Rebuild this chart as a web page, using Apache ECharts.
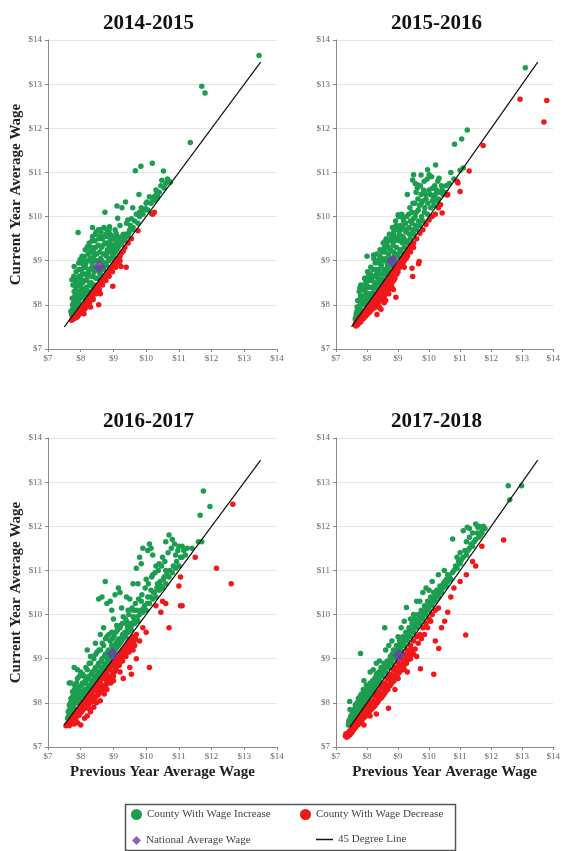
<!DOCTYPE html>
<html>
<head>
<meta charset="utf-8">
<script src="https://cdn.jsdelivr.net/npm/echarts@6/dist/echarts.min.js"></script>
<style>html,body{margin:0;padding:0;background:#fff;}#c{width:563px;height:851px;}</style>
</head>
<body>
<div id="c"></div>
<script>
// ---------- DATA ----------
const panelTitles = ['2014-2015', '2015-2016', '2016-2017', '2017-2018'];
const seriesNames = ['County With Wage Increase', 'County With Wage Decrease', 'National Average Wage', '45 Degree Line'];

// 2014-2015
const inc1415 = [[7.72,7.78],[7.75,7.9],[7.75,8.0],[7.78,8.05],[7.8,7.85],[7.8,8.3],[7.82,8.2],[7.85,7.95],[7.85,8.4],[7.88,8.1],[7.88,8.45],[7.9,8.6],[7.9,7.95],[7.92,8.3],[7.95,8.05],[7.95,8.8],[7.98,8.5],[8.0,8.15],[8.0,8.6],[8.02,8.95],[8.05,8.7],[8.05,8.35],[8.08,8.2],[8.1,8.55],[8.1,8.9],[8.12,9.1],[8.15,8.85],[8.15,8.1],[8.18,8.4],[8.2,9.3],[8.2,8.65],[8.22,9.0],[8.25,8.3],[8.28,8.8],[8.3,9.2],[8.32,8.5],[8.35,9.45],[8.35,8.95],[8.38,8.65],[8.4,9.1],[8.42,8.45],[8.45,9.6],[8.45,9.3],[8.48,8.8],[8.5,9.0],[8.52,8.6],[8.55,9.5],[8.58,9.2],[8.6,8.7],[8.62,9.65],[8.65,9.0],[8.68,9.35],[8.7,8.8],[8.72,9.55],[8.75,9.15],[8.78,8.9],[8.8,9.7],[8.82,9.4],[8.85,9.0],[8.88,9.2],[8.9,9.6],[8.92,9.05],[8.95,9.35],[9.0,9.15],[9.02,9.5],[9.05,9.7],[9.1,9.25],[9.12,9.55],[9.18,9.35],[9.2,9.8],[9.25,9.4],[9.3,9.6],[9.35,9.5],[9.4,9.85],[9.45,9.6],[9.5,9.7],[9.55,9.95],[9.6,9.75],[9.65,9.9],[9.7,10.05],[9.75,9.85],[9.8,10.0],[9.85,10.2],[9.9,10.05],[9.95,10.15],[10.0,10.3],[10.05,10.15],[10.1,10.45],[10.15,10.3],[10.2,10.35],[10.25,10.45],[10.3,10.6],[10.35,10.45],[10.4,10.55],[10.45,10.7],[10.55,10.65],[10.6,10.75],[10.65,10.85],[10.7,10.8],[7.92,9.64],[8.74,10.1],[9.11,10.24],[9.37,10.33],[9.26,10.2],[9.59,10.2],[9.8,10.1],[9.78,10.5],[10.03,10.33],[9.98,10.18],[10.16,10.07],[10.31,10.5],[10.28,10.37],[8.36,9.75],[8.6,9.7],[8.88,9.77],[9.13,9.96],[9.44,9.92],[9.08,9.62],[8.21,9.32],[7.98,9.02],[7.8,8.87],[7.73,8.57],[9.84,11.14],[9.67,11.04],[10.19,11.21],[10.53,11.03],[10.48,10.82],[10.74,10.78],[11.35,11.68],[11.7,12.95],[11.8,12.8],[13.45,13.65]];
const inc1415core = [[7.7,7.85],[7.74,8.15],[7.76,8.45],[7.79,8.65],[7.83,8.05],[7.84,8.55],[7.86,8.75],[7.87,8.25],[7.91,8.15],[7.93,8.45],[7.94,8.95],[7.96,8.65],[7.99,8.25],[8.01,8.4],[8.03,8.8],[8.04,9.1],[8.06,8.5],[8.09,9.0],[8.11,8.3],[8.13,8.7],[8.14,9.25],[8.16,8.95],[8.19,8.55],[8.21,8.25],[8.23,9.15],[8.24,8.75],[8.26,9.4],[8.27,8.45],[8.29,9.05],[8.31,8.65],[8.33,9.3],[8.34,8.85],[8.36,9.55],[8.37,8.4],[8.39,9.2],[8.41,8.75],[8.43,9.45],[8.44,9.0],[8.46,8.6],[8.47,9.65],[8.49,9.15],[8.51,8.85],[8.53,9.35],[8.54,9.7],[8.57,8.75],[8.59,9.55],[8.61,9.05],[8.63,9.3],[8.64,8.85],[8.66,9.5],[8.69,9.15],[8.71,9.75],[8.73,8.95],[8.74,9.4],[8.77,9.6],[8.79,9.1],[8.81,9.25],[8.83,9.55],[8.86,9.35],[8.87,9.7],[8.89,9.05],[8.91,9.45],[8.93,9.25],[8.96,9.55],[8.98,9.1],[9.03,9.3],[9.06,9.2],[9.08,9.4],[9.14,9.3],[9.16,9.5],[9.22,9.4],[9.27,9.55],[9.32,9.45],[9.38,9.6],[9.42,9.55],[9.48,9.65],[9.52,9.8],[9.58,9.7]];
const dec1415 = [[7.75,7.7],[7.8,7.72],[7.85,7.78],[7.9,7.8],[7.92,7.75],[7.95,7.85],[8.0,7.9],[8.02,7.85],[8.05,7.95],[8.1,7.98],[8.1,7.8],[8.12,7.9],[8.15,8.05],[8.2,8.1],[8.22,8.0],[8.25,8.15],[8.3,8.2],[8.3,7.95],[8.35,8.25],[8.38,8.12],[8.4,8.3],[8.45,8.35],[8.5,8.4],[8.52,8.3],[8.55,8.45],[8.6,8.5],[8.6,8.25],[8.65,8.55],[8.7,8.6],[8.75,8.65],[8.8,8.7],[8.85,8.75],[8.9,8.8],[8.95,8.85],[9.0,8.92],[9.05,8.95],[9.1,9.0],[9.15,9.05],[9.2,9.1],[9.2,9.0],[9.25,9.18],[9.3,9.22],[9.35,9.3],[9.45,9.4],[9.55,9.5],[9.75,9.68],[10.2,10.05],[10.25,10.1],[8.55,8.0],[8.98,8.42],[9.23,8.87],[9.39,8.85],[7.72,7.65],[7.78,7.68],[7.83,7.7],[7.88,7.72],[7.97,7.8],[8.07,7.88],[8.17,7.95],[8.27,8.05],[8.37,8.15],[8.47,8.25],[8.57,8.35],[8.67,8.45],[8.77,8.55],[8.87,8.65],[8.97,8.75],[9.07,8.85],[9.17,8.95]];
const nat1415 = [[8.56,8.87]];

// 2015-2016
const inc1516 = [[7.62,7.68],[7.65,7.8],[7.68,7.95],[7.7,8.1],[7.72,7.78],[7.75,7.9],[7.75,8.3],[7.78,8.05],[7.8,8.45],[7.82,7.88],[7.85,8.2],[7.88,8.0],[7.9,8.35],[7.92,8.6],[7.95,8.1],[7.98,8.45],[8.0,8.05],[8.0,9.1],[8.02,8.75],[8.05,8.25],[8.08,8.55],[8.1,8.15],[8.12,8.85],[8.15,8.4],[8.18,8.65],[8.2,8.28],[8.22,9.05],[8.25,8.5],[8.28,8.8],[8.3,8.38],[8.32,9.15],[8.35,8.6],[8.38,8.95],[8.4,8.48],[8.42,9.25],[8.45,8.7],[8.48,9.05],[8.5,8.58],[8.52,9.4],[8.55,8.8],[8.58,9.2],[8.6,8.68],[8.62,9.5],[8.65,8.95],[8.68,9.3],[8.7,8.78],[8.72,9.6],[8.75,9.05],[8.78,9.45],[8.8,8.88],[8.82,9.75],[8.85,9.2],[8.88,9.55],[8.9,8.98],[8.92,9.9],[8.95,9.3],[8.98,9.7],[9.0,9.1],[9.02,10.0],[9.05,9.45],[9.08,9.8],[9.1,9.2],[9.12,10.05],[9.15,9.55],[9.18,9.9],[9.2,9.3],[9.25,9.65],[9.28,10.0],[9.3,9.4],[9.35,9.75],[9.38,10.2],[9.4,9.5],[9.45,9.85],[9.48,10.3],[9.5,9.6],[9.55,10.0],[9.58,10.55],[9.6,9.7],[9.62,10.65],[9.65,10.15],[9.7,9.8],[9.72,10.7],[9.75,10.3],[9.8,9.9],[9.82,10.6],[9.85,10.1],[9.9,10.4],[9.95,10.05],[10.0,10.6],[10.05,10.2],[10.1,10.35],[10.15,10.25],[10.2,10.5],[10.25,10.35],[10.3,10.4],[10.5,10.55],[10.8,10.85],[11.0,11.05],[7.77,8.38],[8.21,9.13],[8.58,9.44],[8.95,9.74],[9.0,10.04],[9.16,9.96],[9.47,10.83],[9.63,10.72],[9.74,10.94],[9.95,11.06],[10.21,11.17],[10.32,10.87],[10.11,10.64],[10.42,10.6],[9.84,10.57],[10.82,11.64],[11.05,11.76],[11.23,11.96],[11.1,11.1],[13.1,13.37],[9.5,10.95],[9.55,10.75],[9.3,10.5],[10.0,10.95]];
const inc1516core = [[7.64,7.72],[7.67,7.85],[7.71,7.95],[7.74,8.1],[7.77,7.82],[7.79,8.2],[7.81,8.0],[7.84,8.35],[7.86,8.1],[7.89,8.45],[7.91,8.05],[7.94,8.3],[7.96,8.55],[7.99,8.2],[8.01,8.4],[8.04,8.65],[8.06,8.15],[8.09,8.4],[8.11,8.7],[8.14,8.25],[8.16,8.55],[8.19,8.8],[8.21,8.4],[8.24,8.65],[8.26,8.95],[8.29,8.45],[8.31,8.7],[8.34,9.0],[8.36,8.5],[8.39,8.8],[8.41,9.1],[8.44,8.55],[8.46,8.9],[8.49,9.2],[8.51,8.7],[8.54,9.0],[8.56,9.3],[8.59,8.75],[8.61,9.05],[8.64,9.35],[8.66,8.85],[8.69,9.15],[8.71,9.45],[8.74,8.9],[8.76,9.25],[8.79,9.55],[8.81,9.0],[8.84,9.35],[8.86,9.65],[8.89,9.1],[8.91,9.45],[8.94,9.8],[8.96,9.15],[8.99,9.5],[9.04,9.6],[9.06,9.25],[9.09,9.7],[9.14,9.4],[9.16,9.75],[9.19,9.5],[9.24,9.85],[9.26,9.45],[9.29,9.7],[9.34,10.05],[9.36,9.6],[9.39,9.9],[9.44,10.1],[9.46,9.7],[9.49,9.95],[9.54,10.3],[9.56,9.8],[9.59,10.1],[9.64,10.4],[9.66,9.9],[9.69,10.25],[9.74,10.5],[9.76,10.0],[9.79,10.35],[9.84,10.8],[9.86,10.2],[9.89,10.5],[9.94,10.85],[9.96,10.3],[10.04,10.5],[10.08,10.9],[10.14,10.45],[10.18,10.7],[10.24,10.6],[10.28,10.8],[10.34,10.55],[10.4,10.7],[10.45,10.5],[10.55,10.7],[10.65,10.75],[10.7,11.0]];
const dec1516 = [[7.62,7.55],[7.65,7.6],[7.68,7.58],[7.7,7.65],[7.72,7.6],[7.75,7.7],[7.78,7.65],[7.8,7.72],[7.82,7.68],[7.85,7.78],[7.88,7.7],[7.9,7.82],[7.92,7.75],[7.95,7.88],[7.98,7.8],[8.0,7.92],[8.02,7.85],[8.05,7.95],[8.08,7.88],[8.1,8.0],[8.12,7.92],[8.15,8.05],[8.18,7.98],[8.2,8.1],[8.22,8.0],[8.25,8.15],[8.28,8.05],[8.3,8.2],[8.32,7.95],[8.35,8.25],[8.38,8.1],[8.4,8.3],[8.42,8.15],[8.45,8.35],[8.48,8.2],[8.5,8.4],[8.52,8.25],[8.55,8.45],[8.58,8.3],[8.6,8.5],[8.62,8.38],[8.65,8.55],[8.68,8.45],[8.7,8.6],[8.72,8.48],[8.75,8.65],[8.78,8.55],[8.8,8.7],[8.85,8.75],[8.88,8.6],[8.9,8.8],[8.95,8.85],[9.0,8.9],[9.05,8.95],[9.1,9.0],[9.15,9.05],[9.2,9.12],[9.25,9.15],[9.3,9.22],[9.35,9.28],[9.4,9.32],[9.45,9.38],[9.5,9.4],[9.6,9.5],[9.7,9.62],[9.8,9.7],[9.9,9.82],[10.0,9.92],[9.68,8.98],[9.66,8.93],[9.45,8.83],[9.47,8.64],[8.93,8.17],[8.32,7.78],[8.6,8.1],[8.45,7.9],[9.2,8.85],[8.8,8.4],[10.1,10.0],[10.2,10.05],[10.37,10.27],[10.42,10.08],[10.58,10.49],[10.93,10.76],[11.0,10.57],[11.29,11.03],[11.74,11.61],[12.93,12.66],[13.79,12.63],[13.7,12.14],[10.6,10.5],[10.3,10.2],[10.9,10.8],[7.64,7.52],[7.7,7.55],[7.76,7.6],[7.8,7.62],[7.86,7.68],[7.9,7.7],[7.96,7.75],[8.0,7.78],[8.06,7.82],[8.1,7.85],[8.16,7.9],[8.2,7.92],[8.26,7.98],[8.3,8.0],[8.36,8.05],[8.4,8.08],[8.46,8.12],[8.5,8.15],[8.56,8.2],[8.6,8.25],[8.66,8.3],[8.7,8.35],[8.76,8.4],[8.8,8.5],[8.86,8.55],[8.9,8.6],[8.96,8.7],[9.0,8.75],[9.06,8.85],[9.1,8.9],[9.16,8.95],[9.2,9.0],[9.26,9.05],[9.3,9.1],[9.4,9.2],[9.5,9.3],[8.4,7.95],[8.55,8.05],[8.7,8.25],[8.85,8.35]];
const nat1516 = [[8.82,9.0]];

// 2016-2017
const inc1617 = [[7.6,7.65],[7.62,7.8],[7.65,7.95],[7.68,7.72],[7.7,8.1],[7.72,7.85],[7.75,8.25],[7.78,7.95],[7.8,8.05],[7.82,8.4],[7.85,8.0],[7.88,8.2],[7.9,8.55],[7.92,8.1],[7.95,8.35],[7.98,8.15],[8.0,8.7],[8.02,8.25],[8.05,8.45],[8.08,8.2],[8.1,8.6],[8.12,8.3],[8.15,8.5],[8.18,8.3],[8.2,8.75],[8.22,8.4],[8.25,8.6],[8.28,8.4],[8.3,8.9],[8.32,8.5],[8.35,8.7],[8.38,8.5],[8.4,9.0],[8.42,8.6],[8.45,8.8],[8.48,8.6],[8.5,9.15],[8.52,8.7],[8.55,8.9],[8.58,8.7],[8.6,9.2],[8.62,8.8],[8.65,9.0],[8.68,8.8],[8.7,9.3],[8.72,8.9],[8.75,9.1],[8.78,8.9],[8.8,9.5],[8.82,9.0],[8.85,9.2],[8.88,9.0],[8.9,9.4],[8.92,9.1],[8.95,9.3],[9.0,9.1],[9.02,9.5],[9.05,9.2],[9.08,9.35],[9.1,9.25],[9.12,9.65],[9.15,9.3],[9.18,9.45],[9.2,9.35],[9.22,9.75],[9.25,9.4],[9.28,9.55],[9.3,9.45],[9.35,9.6],[9.38,9.5],[9.4,9.85],[9.45,9.6],[9.5,9.7],[9.55,9.65],[9.6,9.95],[9.65,9.8],[9.7,10.1],[9.75,9.85],[9.8,10.0],[9.85,10.3],[9.9,10.05],[9.95,10.2],[10.0,10.1],[10.05,10.4],[10.1,10.25],[10.15,10.55],[10.2,10.35],[10.25,10.5],[10.3,10.4],[10.35,10.7],[10.4,10.55],[10.45,10.65],[10.5,10.6],[10.55,10.85],[10.6,10.7],[10.7,10.85],[10.8,10.95],[10.9,11.05],[11.0,11.1],[11.1,11.3],[11.2,11.35],[11.4,11.5],[11.6,11.65],[7.65,8.45],[7.7,8.45],[7.8,8.8],[7.9,8.75],[8.2,9.2],[8.3,9.05],[8.45,9.35],[8.55,10.35],[8.65,10.4],[8.75,10.75],[8.8,10.25],[8.9,10.3],[9.15,10.6],[9.2,10.5],[9.5,10.35],[9.6,10.1],[9.25,10.15],[9.3,9.95],[9.45,10.1],[9.0,9.9],[9.1,9.75],[9.2,9.7],[9.4,9.8],[9.55,9.75],[8.7,9.7],[8.6,9.55],[8.95,9.6],[9.7,11.05],[9.8,11.3],[9.85,11.15],[10.05,11.45],[10.1,11.6],[10.2,11.35],[10.3,11.1],[10.5,11.3],[10.6,11.0],[10.7,11.8],[10.8,11.7],[10.6,11.65],[11.0,11.55],[11.1,11.55],[10.0,10.8],[10.2,10.9],[10.4,11.15],[10.9,11.35],[11.65,12.25],[11.75,12.8],[11.95,12.45],[11.7,11.65]];
const inc1617core = [[7.63,7.7],[7.66,7.85],[7.69,8.0],[7.73,7.78],[7.76,8.15],[7.79,7.88],[7.81,8.3],[7.84,8.1],[7.87,8.45],[7.89,8.0],[7.93,8.3],[7.96,8.6],[7.99,8.05],[8.03,8.4],[8.06,8.65],[8.09,8.15],[8.13,8.45],[8.16,8.8],[8.19,8.25],[8.23,8.55],[8.26,8.9],[8.29,8.35],[8.33,8.65],[8.36,9.05],[8.39,8.45],[8.43,8.75],[8.46,9.1],[8.49,8.55],[8.53,8.85],[8.56,9.2],[8.59,8.65],[8.63,8.95],[8.66,9.35],[8.69,8.75],[8.73,9.05],[8.76,9.45],[8.79,8.85],[8.83,9.15],[8.86,9.55],[8.89,8.95],[8.93,9.2],[8.97,9.45],[9.03,9.3],[9.07,9.6],[9.13,9.4],[9.17,9.7],[9.23,9.45],[9.27,9.8],[9.33,9.55],[9.37,9.9],[9.43,9.7],[9.47,10.0],[9.53,9.8],[9.57,10.15],[9.63,9.85],[9.67,10.25],[9.73,9.95],[9.77,10.35],[9.83,10.1],[9.87,10.45],[9.93,10.15],[9.97,10.6],[10.03,10.25],[10.07,10.7],[10.13,10.4],[10.17,10.85],[10.23,10.5],[10.27,10.95],[10.33,10.6],[10.37,11.0],[10.43,10.75],[10.47,11.1],[10.53,10.8],[10.57,11.2],[10.63,10.9],[10.67,11.4],[10.73,11.0],[10.77,11.5],[10.83,11.1],[10.87,11.6],[10.93,11.2],[10.97,11.45],[11.05,11.3],[11.15,11.45],[11.25,11.5],[9.9,11.5],[10.15,11.5],[9.6,10.7],[9.4,10.4],[9.75,10.7],[8.95,10.1],[9.05,10.45]];
const dec1617 = [[7.55,7.48],[7.6,7.5],[7.62,7.55],[7.65,7.48],[7.68,7.6],[7.7,7.52],[7.72,7.65],[7.75,7.55],[7.78,7.7],[7.8,7.6],[7.82,7.75],[7.85,7.65],[7.88,7.8],[7.9,7.55],[7.92,7.85],[7.95,7.72],[7.98,7.9],[8.0,7.78],[8.02,7.95],[8.05,7.85],[8.08,8.0],[8.1,7.9],[8.12,7.65],[8.15,8.05],[8.18,7.95],[8.2,8.1],[8.22,8.0],[8.25,8.15],[8.28,7.85],[8.3,8.2],[8.32,8.05],[8.35,8.25],[8.38,8.1],[8.4,8.3],[8.42,8.15],[8.45,8.35],[8.48,8.0],[8.5,8.4],[8.52,8.25],[8.55,8.45],[8.58,8.3],[8.6,8.5],[8.62,8.35],[8.65,8.55],[8.68,8.4],[8.7,8.6],[8.72,8.2],[8.75,8.65],[8.78,8.5],[8.8,8.7],[8.82,8.55],[8.85,8.75],[8.88,8.6],[8.9,8.8],[8.92,8.45],[8.95,8.85],[8.98,8.7],[9.0,8.9],[9.05,8.95],[9.08,8.75],[9.1,9.0],[9.15,9.05],[9.18,8.85],[9.2,9.1],[9.25,9.15],[9.28,8.95],[9.3,9.2],[9.35,9.25],[9.38,9.05],[9.4,9.3],[9.45,9.35],[9.48,9.15],[9.5,9.4],[9.55,9.45],[9.6,9.5],[9.65,9.3],[9.7,9.55],[9.55,8.65],[9.5,8.8],[9.7,9.0],[9.3,8.55],[9.0,8.5],[8.3,7.8],[8.0,7.5],[7.8,7.52],[10.1,8.8],[9.9,9.7],[10.0,9.6],[10.45,10.05],[10.5,10.3],[10.6,10.25],[10.7,9.7],[10.3,10.2],[11.0,10.65],[11.05,10.85],[11.05,10.2],[11.1,10.2],[11.5,11.3],[12.15,11.05],[12.6,10.7],[12.65,12.5],[9.8,9.4],[9.6,9.2],[7.58,7.5],[7.63,7.52],[7.67,7.55],[7.73,7.58],[7.77,7.62],[7.83,7.65],[7.87,7.7],[7.93,7.72],[7.97,7.78],[8.03,7.8],[8.07,7.85],[8.13,7.88],[8.17,7.92],[8.23,7.95],[8.27,8.0],[8.33,8.02],[8.37,8.08],[8.43,8.1],[8.47,8.15],[8.53,8.18],[8.57,8.22],[8.63,8.25],[8.67,8.3],[8.73,8.35],[8.77,8.4],[8.83,8.45],[8.87,8.5],[8.93,8.6],[8.97,8.62],[9.03,8.7],[9.07,8.8],[9.13,8.85],[9.17,8.92],[9.23,8.95],[9.27,9.02],[9.33,9.08],[9.37,9.12],[9.43,9.15],[9.47,9.22],[9.53,9.28],[9.57,9.3],[9.63,9.4],[9.67,9.45],[8.2,7.7],[8.4,7.9],[8.6,8.05],[8.8,8.3],[9.0,8.6],[9.2,8.7]];
const nat1617 = [[8.98,9.1]];

// 2017-2018
const inc1718 = [[7.4,7.5],[7.42,7.6],[7.45,7.55],[7.48,7.7],[7.5,7.6],[7.52,7.8],[7.55,7.65],[7.58,7.85],[7.6,7.7],[7.62,7.95],[7.65,7.75],[7.68,8.0],[7.7,7.8],[7.72,8.1],[7.75,7.85],[7.78,8.15],[7.8,7.9],[7.82,8.2],[7.85,7.95],[7.88,8.3],[7.9,8.0],[7.92,8.25],[7.95,8.05],[7.98,8.4],[8.0,8.1],[8.05,8.35],[8.08,8.15],[8.1,8.45],[8.15,8.25],[8.18,8.5],[8.2,8.3],[8.25,8.55],[8.28,8.35],[8.3,8.65],[8.35,8.45],[8.38,8.7],[8.4,8.5],[8.45,8.8],[8.5,8.6],[8.55,8.9],[8.6,8.7],[8.65,8.95],[8.7,8.8],[8.75,9.05],[8.8,8.9],[8.85,9.2],[8.9,9.0],[8.95,9.3],[9.0,9.1],[9.05,9.4],[9.1,9.2],[9.15,9.5],[9.2,9.3],[9.25,9.6],[9.3,9.4],[9.35,9.7],[9.4,9.5],[9.45,9.8],[9.5,9.6],[9.55,9.9],[9.6,9.7],[9.65,10.0],[9.7,9.8],[9.75,10.1],[9.8,9.9],[9.85,10.2],[9.9,10.0],[9.95,10.3],[10.0,10.1],[10.05,10.4],[10.1,10.2],[10.15,10.5],[10.2,10.3],[10.25,10.55],[10.3,10.4],[10.35,10.65],[10.4,10.5],[10.45,10.6],[10.5,10.75],[10.55,10.65],[10.6,10.9],[10.7,10.8],[10.8,11.0],[10.9,11.05],[11.0,11.15],[11.1,11.3],[11.2,11.35],[11.3,11.5],[11.4,11.55],[11.5,11.7],[11.6,11.75],[11.7,11.85],[11.8,11.95],[7.44,8.03],[7.45,7.85],[7.79,9.12],[7.9,8.5],[8.1,8.7],[8.3,8.9],[8.57,9.7],[8.6,9.2],[8.8,9.4],[9.0,9.5],[9.1,9.7],[9.27,10.16],[9.4,9.9],[9.6,10.3],[9.8,10.5],[9.9,10.6],[10.1,10.75],[10.3,10.9],[10.49,11.0],[10.6,10.75],[10.76,11.71],[10.9,11.3],[11.0,11.4],[11.1,11.9],[11.23,11.98],[11.3,11.75],[11.4,11.85],[11.5,12.05],[11.57,11.98],[11.6,12.0],[11.7,11.9],[12.55,12.92],[12.98,12.92],[12.6,12.6],[11.2,11.65],[11.3,11.95]];
const inc1718core = [[7.41,7.55],[7.46,7.65],[7.51,7.7],[7.56,7.8],[7.61,7.85],[7.66,7.9],[7.71,7.95],[7.76,8.0],[7.81,8.05],[7.86,8.1],[7.91,8.15],[7.96,8.2],[8.01,8.25],[8.06,8.3],[8.11,8.3],[8.16,8.4],[8.21,8.45],[8.26,8.45],[8.31,8.5],[8.36,8.6],[8.41,8.65],[8.46,8.65],[8.51,8.75],[8.56,8.8],[8.61,8.85],[8.66,8.85],[8.71,8.95],[8.76,9.0],[8.81,9.1],[8.86,9.05],[8.91,9.15],[8.96,9.2],[9.01,9.3],[9.06,9.25],[9.11,9.35],[9.16,9.4],[9.21,9.45],[9.26,9.5],[9.31,9.55],[9.36,9.6],[9.41,9.65],[9.46,9.65],[9.51,9.75],[9.56,9.75],[9.61,9.85],[9.66,9.85],[9.71,9.95],[9.76,9.95],[9.81,10.05],[9.86,10.05],[9.91,10.15],[9.96,10.15],[10.01,10.25],[10.06,10.25],[10.11,10.35],[10.16,10.35],[10.21,10.45],[10.26,10.45],[10.31,10.55],[10.36,10.5],[10.41,10.65],[10.46,10.7],[10.51,10.65],[10.56,10.8],[10.65,10.85],[10.75,10.95],[10.85,11.1],[10.95,11.2],[11.05,11.25],[11.15,11.45],[11.25,11.45],[11.35,11.6],[11.45,11.65],[11.55,11.85],[11.65,11.8],[11.75,12.0],[8.2,8.75],[8.4,8.95],[8.7,9.3],[9.2,9.85],[9.5,10.0],[9.7,10.3],[10.0,10.55]];
const dec1718 = [[7.3,7.25],[7.32,7.3],[7.35,7.22],[7.38,7.3],[7.4,7.25],[7.42,7.35],[7.45,7.28],[7.48,7.4],[7.5,7.32],[7.52,7.45],[7.55,7.38],[7.58,7.5],[7.6,7.42],[7.62,7.55],[7.65,7.48],[7.68,7.6],[7.7,7.5],[7.72,7.65],[7.75,7.55],[7.78,7.7],[7.8,7.6],[7.82,7.75],[7.85,7.65],[7.88,7.8],[7.9,7.7],[7.92,7.85],[7.95,7.75],[7.98,7.9],[8.0,7.8],[8.05,7.95],[8.08,7.85],[8.1,8.0],[8.15,7.9],[8.18,8.05],[8.2,7.95],[8.25,8.15],[8.28,8.0],[8.3,8.2],[8.35,8.1],[8.38,8.25],[8.4,8.15],[8.45,8.35],[8.48,8.2],[8.5,8.4],[8.55,8.3],[8.58,8.45],[8.6,8.35],[8.65,8.55],[8.68,8.4],[8.7,8.6],[8.75,8.5],[8.78,8.65],[8.8,8.55],[8.85,8.75],[8.88,8.6],[8.9,8.8],[8.95,8.7],[9.0,8.9],[9.05,8.8],[9.1,9.0],[9.15,8.9],[9.2,9.1],[9.25,9.0],[9.3,9.2],[9.35,9.1],[9.4,9.3],[9.45,9.2],[9.5,9.4],[9.6,9.5],[9.7,9.55],[9.8,9.7],[9.9,9.8],[10.0,9.9],[10.1,10.0],[10.2,10.1],[10.3,10.15],[8.69,7.88],[8.3,7.75],[7.9,7.5],[8.1,7.7],[8.9,8.3],[9.0,8.55],[9.2,8.75],[9.3,8.7],[9.72,8.77],[9.6,9.05],[10.15,8.65],[10.31,9.23],[10.2,9.4],[10.4,9.7],[10.5,9.85],[10.6,10.05],[10.7,10.4],[10.8,10.6],[11.18,9.54],[11.0,10.75],[11.2,10.9],[11.4,11.2],[11.5,11.1],[11.7,11.55],[12.4,11.69],[9.4,9.0],[9.5,9.1],[7.33,7.27],[7.37,7.25],[7.43,7.3],[7.47,7.32],[7.53,7.35],[7.57,7.4],[7.63,7.45],[7.67,7.5],[7.73,7.52],[7.77,7.58],[7.83,7.6],[7.87,7.65],[7.93,7.68],[7.97,7.72],[8.03,7.75],[8.07,7.8],[8.13,7.85],[8.17,7.88],[8.23,7.92],[8.27,7.95],[8.33,8.0],[8.37,8.05],[8.43,8.1],[8.47,8.12],[8.53,8.18],[8.57,8.22],[8.63,8.28],[8.67,8.3],[8.73,8.38],[8.77,8.42],[8.83,8.48],[8.87,8.5],[8.93,8.58],[8.97,8.6],[9.03,8.68],[9.07,8.72],[9.13,8.78],[9.17,8.8],[9.23,8.88],[9.27,8.9],[9.33,8.98],[9.37,9.02],[9.43,9.1],[9.47,9.12],[9.55,9.22],[9.65,9.35],[9.75,9.45],[9.85,9.55],[9.95,9.7],[10.05,9.85]];
const nat1718 = [[9.02,9.08]];

// 45 degree reference line end points
const line45 = [[7.5,7.5],[13.5,13.5]];
const line45b = [[7.45,7.45],[13.5,13.5]];

// axis range / ticks
const axisMin = 7, axisMax = 14, axisStep = 1;

const incData = [inc1415.concat(inc1415core), inc1516.concat(inc1516core), inc1617.concat(inc1617core), inc1718.concat(inc1718core)];
const decData = [dec1415, dec1516, dec1617, dec1718];
const natData = [nat1415, nat1516, nat1617, nat1718];
const lineData = [line45, line45, line45, line45b];

// ---------- LAYOUT ----------
const SERIF = '"Liberation Serif","DejaVu Serif",serif';
const grids = [
  {left: 48, top: 40, width: 229, height: 309},
  {left: 336, top: 40, width: 226, height: 309},
  {left: 48, top: 438, width: 229, height: 309},
  {left: 336, top: 438, width: 226, height: 309}
];
const titlePos = [{left: 98, top: 8}, {left: 386, top: 8}, {left: 98, top: 406}, {left: 386, top: 406}];

const axisBase = (i) => ({
  gridIndex: i, type: 'value', min: axisMin, max: axisMax, interval: axisStep,
  axisLine: {show: true, lineStyle: {color: '#8a8a8a', width: 1}},
  axisTick: {show: true, length: 3, lineStyle: {color: '#8a8a8a'}},
  axisLabel: {formatter: v => '$' + v, fontFamily: SERIF, fontSize: 9, color: '#666', margin: 5},
  splitLine: {show: false}
});

const xAxes = [], yAxes = [], series = [], titles = [];
for (let i = 0; i < 4; i++) {
  const xa = axisBase(i);
  if (i >= 2) {
    Object.assign(xa, {name: 'Previous Year Average Wage', nameLocation: 'middle', nameGap: 18,
      nameTextStyle: {fontFamily: SERIF, fontWeight: 'bold', fontSize: 15, color: '#222'}});
  }
  xAxes.push(xa);
  const ya = axisBase(i);
  ya.splitLine = {show: true, lineStyle: {color: '#e6e6e6', width: 1}};
  ya.axisLabel = Object.assign({}, ya.axisLabel, {margin: 6});
  if (i % 2 === 0) {
    Object.assign(ya, {name: 'Current Year Average Wage', nameLocation: 'middle', nameGap: 24,
      nameTextStyle: {fontFamily: SERIF, fontWeight: 'bold', fontSize: 15, color: '#222'}});
  }
  yAxes.push(ya);
  titles.push({text: panelTitles[i], left: titlePos[i].left, top: titlePos[i].top,
    textStyle: {fontFamily: SERIF, fontWeight: 'bold', fontSize: 21, color: '#111'}});

  series.push({name: seriesNames[0], type: 'scatter', xAxisIndex: i, yAxisIndex: i, data: incData[i],
    symbol: 'circle', symbolSize: 5.5, itemStyle: {color: '#1c9e50', opacity: 1}, z: 2, silent: true});
  series.push({name: seriesNames[1], type: 'scatter', xAxisIndex: i, yAxisIndex: i, data: decData[i],
    symbol: 'circle', symbolSize: 5.5, itemStyle: {color: '#f0181a', opacity: 1}, z: 2, silent: true});
  series.push({name: seriesNames[3], type: 'line', xAxisIndex: i, yAxisIndex: i, data: lineData[i],
    symbol: 'none', itemStyle: {color: '#111'}, lineStyle: {color: '#111', width: 1.2}, z: 3, silent: true});
  series.push({name: seriesNames[2], type: 'scatter', xAxisIndex: i, yAxisIndex: i, data: natData[i],
    symbol: 'diamond', symbolSize: 13, itemStyle: {color: '#6b3fa8'}, z: 4, silent: true});
}

const legendText = {fontFamily: SERIF, fontSize: 11, color: '#444'};
const legends = [
  {data: [{name: seriesNames[0], icon: 'circle'}], left: 131, top: 809, itemWidth: 11, itemHeight: 11},
  {data: [{name: seriesNames[1], icon: 'circle'}], left: 300, top: 809, itemWidth: 11, itemHeight: 11},
  {data: [{name: seriesNames[2], icon: 'diamond'}], left: 132, top: 835, itemWidth: 9, itemHeight: 9},
  {data: [{name: seriesNames[3], icon: 'rect'}], left: 316, top: 834, itemWidth: 17, itemHeight: 1.5}
].map(l => Object.assign(l, {selectedMode: false, textStyle: legendText, itemGap: 6, padding: 0}));

const chart = echarts.init(document.getElementById('c'), null, {renderer: 'canvas'});
chart.setOption({
  animation: false,
  backgroundColor: '#fff',
  title: titles,
  grid: grids,
  xAxis: xAxes,
  yAxis: yAxes,
  legend: legends,
  graphic: [{type: 'rect', left: 123, top: 802, shape: {width: 330, height: 46},
    style: {fill: 'none', stroke: '#555', lineWidth: 1.5}, silent: true}],
  series: series
});
</script>
</body>
</html>
